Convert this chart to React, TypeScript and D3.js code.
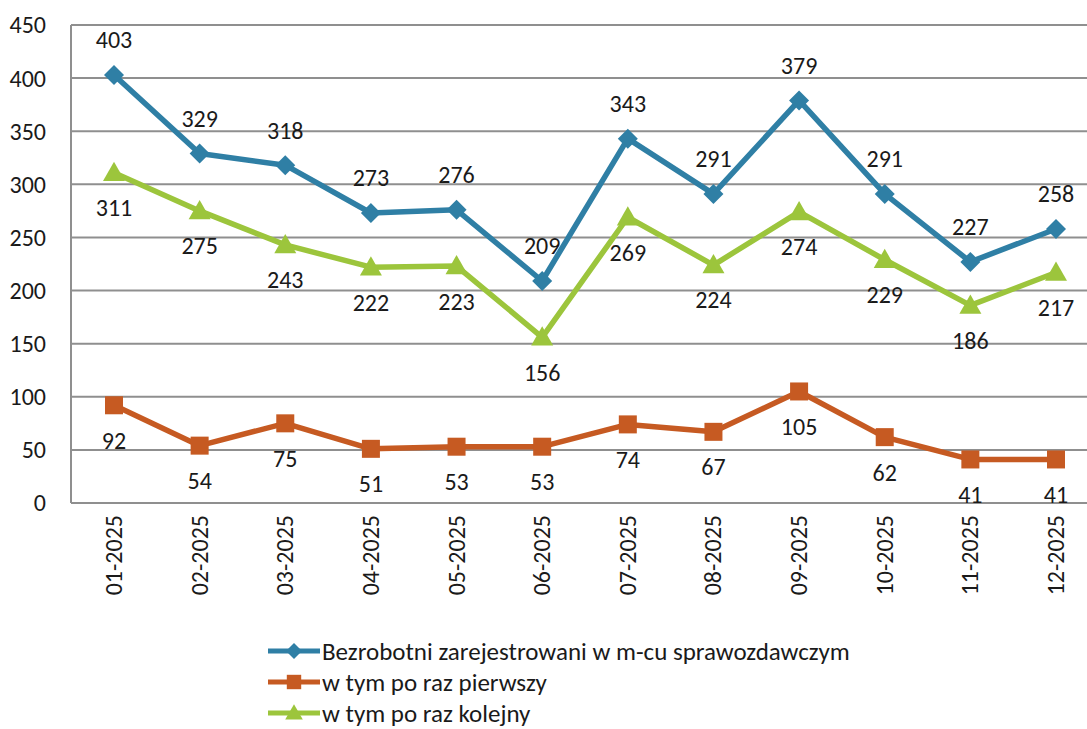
import React from "react";
import * as d3 from "d3";

const months = ["01-2025","02-2025","03-2025","04-2025","05-2025","06-2025","07-2025","08-2025","09-2025","10-2025","11-2025","12-2025"];
const total = [403,329,318,273,276,209,343,291,379,291,227,258];
const firstTime = [92,54,75,51,53,53,74,67,105,62,41,41];
const nextTime = [311,275,243,222,223,156,269,224,274,229,186,217];
const yTicks = [0,50,100,150,200,250,300,350,400,450];
const legendLabels = ["Bezrobotni zarejestrowani w m-cu sprawozdawczym","w tym po raz pierwszy","w tym po raz kolejny"];

const W = 1087, H = 729;
const FONT = "Carlito, Lato, 'Open Sans', sans-serif";
const BLUE = "#2f7fa5", BROWN = "#c65a22", GREEN = "#9cc53c";

export default function App() {
  const x = d3.scalePoint<string>().domain(months).range([114, 1056]);
  const y = d3.scaleLinear().domain([0, 450]).range([503, 25]);
  const line = d3.line<number>().x((_, i) => x(months[i])!).y(d => y(d));

  const series = [
    { data: total, color: BLUE, shape: "diamond", labelDy: -35 },
    { data: firstTime, color: BROWN, shape: "square", labelDy: 35 },
    { data: nextTime, color: GREEN, shape: "triangle", labelDy: 35 },
  ];

  const marker = (shape: string, cx: number, cy: number, color: string, key: any, s = 1) => {
    if (shape === "diamond") {
      const r = 10 * s;
      return <path key={key} d={`M${cx},${cy - r}L${cx + r},${cy}L${cx},${cy + r}L${cx - r},${cy}Z`} fill={color} />;
    }
    if (shape === "square") {
      const r = 9 * s;
      return <rect key={key} x={cx - r} y={cy - r} width={2 * r} height={2 * r} fill={color} />;
    }
    const r = 11 * s;
    return <path key={key} d={`M${cx},${cy - r}L${cx + r},${cy + r * 0.75}L${cx - r},${cy + r * 0.75}Z`} fill={color} />;
  };

  return (
    <svg width={W} height={H} style={{ position: "absolute", left: 0, top: 0, background: "#fff" }} fontFamily={FONT}>
      <rect width={W} height={H} fill="#fff" />
      {yTicks.map(t => (
        <g key={t}>
          <line x1={71} x2={W} y1={y(t)} y2={y(t)} stroke="#8f8f8f" strokeWidth={2} />
          <text x={46} y={y(t)} dy="0.35em" textAnchor="end" fontSize={24} fill="#1a1a1a">{t}</text>
        </g>
      ))}
      <line x1={71} x2={71} y1={y(450)} y2={y(0)} stroke="#8f8f8f" strokeWidth={2} />
      {months.map(m => (
        <text key={m} transform={`translate(${x(m)! + 8},515) rotate(-90)`} textAnchor="end" fontSize={24} fill="#1a1a1a">{m}</text>
      ))}
      {series.map((s, si) => (
        <g key={si}>
          <path d={line(s.data)!} fill="none" stroke={s.color} strokeWidth={5.5} strokeLinejoin="round" />
          {s.data.map((v, i) => marker(s.shape, x(months[i])!, y(v), s.color, i))}
          {s.data.map((v, i) => (
            <text key={"l" + i} x={x(months[i])!} y={y(v) + s.labelDy} dy="0.35em" textAnchor="middle" fontSize={24} fill="#1a1a1a">{v}</text>
          ))}
        </g>
      ))}
      {legendLabels.map((l, i) => {
        const ly = 651 + i * 31;
        const sh = series[i];
        return (
          <g key={l}>
            <line x1={268} x2={320} y1={ly} y2={ly} stroke={sh.color} strokeWidth={5} />
            {marker(sh.shape, 294, ly, sh.color, "m", 0.8)}
            <text x={322} y={ly} dy="0.35em" fontSize={25} fill="#1a1a1a">{l}</text>
          </g>
        );
      })}
    </svg>
  );
}
